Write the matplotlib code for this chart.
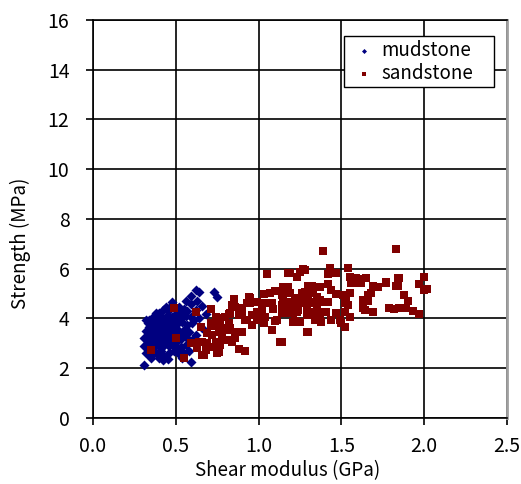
import matplotlib.pyplot as plt
import numpy as np

plt.rcParams['font.family'] = ['Noto Sans CJK JP', 'DejaVu Sans']

# mudstone: shear modulus (GPa), strength (MPa)
mud_g = [0.62, 0.64, 0.73, 0.75, 0.59, 0.63, 0.56, 0.48, 0.59, 0.50, 0.40, 0.38, 0.34, 0.32,
         0.31, 0.42, 0.59, 0.54, 0.51,
         0.44, 0.47, 0.52, 0.55, 0.45, 0.53, 0.57, 0.42,
         0.36, 0.39, 0.42, 0.45, 0.48, 0.50, 0.53, 0.56, 0.59, 0.61, 0.44,
         0.33, 0.35, 0.38, 0.40, 0.43, 0.46, 0.48, 0.51, 0.54, 0.57, 0.60, 0.41, 0.36,
         0.32, 0.34, 0.36, 0.39, 0.41, 0.44, 0.46, 0.49, 0.52, 0.55, 0.58, 0.38, 0.43, 0.47,
         0.31, 0.33, 0.35, 0.37, 0.40, 0.42, 0.45, 0.47, 0.50, 0.53, 0.56, 0.39, 0.44,
         0.31, 0.33, 0.35, 0.37, 0.39, 0.41, 0.43, 0.46, 0.48, 0.53, 0.56, 0.36,
         0.32, 0.34, 0.37, 0.39, 0.41, 0.43, 0.46, 0.49, 0.52, 0.40, 0.35, 0.45,
         0.62, 0.66, 0.68, 0.64, 0.66, 0.62, 0.60, 0.58, 0.55,
         0.37, 0.42, 0.46, 0.50, 0.50, 0.48, 0.38, 0.44, 0.40, 0.35, 0.45, 0.52,
         0.34, 0.37, 0.41, 0.43, 0.47, 0.49, 0.51, 0.54, 0.33, 0.39]
mud_s = [5.14, 5.07, 5.08, 4.87, 4.90, 4.72, 4.70, 4.66, 4.58, 4.34, 4.22, 4.23, 3.94, 3.94,
         2.11, 2.33, 2.26, 2.41, 2.87,
         4.45, 4.52, 4.48, 4.40, 4.30, 4.25, 4.30, 4.35,
         4.05, 4.12, 4.00, 4.15, 4.05, 4.18, 4.02, 4.10, 4.05, 3.95, 3.95,
         3.80, 3.72, 3.85, 3.75, 3.82, 3.70, 3.88, 3.78, 3.85, 3.72, 3.80, 3.90, 3.90,
         3.50, 3.42, 3.58, 3.48, 3.60, 3.45, 3.55, 3.62, 3.50, 3.55, 3.45, 3.38, 3.35, 3.40,
         3.20, 3.10, 3.28, 3.15, 3.25, 3.12, 3.22, 3.08, 3.30, 3.18, 3.25, 3.05, 3.32,
         2.90, 2.82, 2.98, 2.85, 2.95, 2.80, 2.92, 2.88, 2.97, 2.85, 2.95, 2.75,
         2.60, 2.52, 2.65, 2.55, 2.68, 2.50, 2.62, 2.70, 2.58, 2.42, 2.40, 2.38,
         4.35, 4.50, 4.20, 4.00, 3.60, 3.35, 3.15, 2.70, 2.60,
         3.65, 3.70, 3.95, 3.95, 3.45, 3.20, 3.00, 3.05, 3.40, 3.35, 4.05, 4.35,
         3.65, 3.30, 3.10, 3.60, 3.30, 3.50, 3.10, 3.35, 3.00, 3.70]

# sandstone
sand_g = [1.39, 1.83, 1.19, 1.23, 1.25, 1.27, 1.43, 1.42, 1.47, 1.54, 1.55, 1.56, 1.59, 1.65,
          1.62, 1.69, 1.72, 1.77, 1.84, 1.83, 1.88, 1.90, 1.15, 1.18, 1.30, 1.32, 1.37, 1.42,
          1.28, 1.33, 1.35, 1.44, 1.47, 1.51, 1.55, 1.53, 1.15, 1.19, 1.22, 1.25, 1.17, 1.14,
          1.19, 1.22, 1.24, 1.29, 1.32, 1.34, 1.37, 1.39, 1.42, 1.35, 1.38, 1.29, 1.32, 1.37,
          1.41, 1.38, 1.34, 1.44, 1.47, 1.49, 1.50, 1.52, 1.52, 1.54, 1.52, 1.55, 1.63, 1.66,
          1.66, 1.63, 1.64, 1.69, 1.59, 1.62, 1.77, 1.79, 1.82, 1.85, 1.89, 1.16, 1.21, 1.25,
          1.29, 1.14, 1.35, 1.30, 1.21, 1.23,
          1.85, 1.84, 2.00, 1.97, 2.00, 2.02, 1.93, 1.97, 1.60, 1.68, 1.28,
          1.05, 0.85, 0.94, 0.95, 1.03, 1.07, 1.10, 1.14, 1.16, 1.18, 1.15, 1.19, 1.22, 1.26,
          1.29, 1.31, 1.23, 1.27, 1.14, 1.20, 1.04, 1.02, 0.99, 1.08, 1.09, 1.04, 1.03, 1.08,
          1.10, 1.22, 1.30, 1.14, 0.96, 0.93, 0.90, 0.86, 0.83, 0.88, 0.80, 0.77, 0.75, 0.82,
          0.81, 0.76, 0.86, 0.90, 0.86, 0.77, 0.84, 0.76, 0.88, 0.92, 1.13, 0.96, 0.99,
          0.84, 0.95, 0.93, 0.88, 0.82, 0.74, 0.90, 0.92, 1.00, 0.99, 1.11, 1.18,
          0.49, 0.62, 0.71, 0.74, 0.71, 0.65, 0.50, 0.59, 0.64, 0.69, 0.74, 0.68, 0.75, 0.67,
          0.35, 0.55, 0.71, 0.76, 0.78, 0.72, 0.77, 0.80, 0.83, 0.78, 0.81, 0.69, 0.66, 0.63,
          0.73, 0.66]
sand_s = [6.73, 6.79, 5.84, 5.67, 5.86, 5.99, 6.04, 5.79, 5.84, 6.03, 5.68, 5.42, 5.63, 5.63,
          5.44, 5.32, 5.27, 5.43, 5.63, 5.32, 4.94, 4.70, 5.28, 5.27, 5.31, 5.31, 5.27, 5.39,
          5.08, 5.04, 4.88, 5.15, 4.98, 4.94, 5.04, 4.88, 4.94, 5.02, 4.82, 4.74, 4.68, 4.54,
          4.34, 4.54, 4.34, 4.47, 4.68, 4.62, 4.74, 4.68, 4.68, 4.34, 4.27, 4.14, 4.27, 4.14,
          4.27, 3.87, 3.94, 3.94, 4.23, 3.94, 3.81, 3.67, 4.62, 4.54, 4.27, 4.07, 4.74, 4.94,
          4.72, 4.42, 4.34, 4.27, 5.42, 5.48, 5.48, 4.42, 4.38, 4.42, 4.42, 4.23, 3.87, 3.87,
          3.47, 3.07, 4.47, 4.74, 4.21, 4.27,
          5.62, 5.31, 5.68, 5.37, 5.15, 5.18, 4.30, 4.17, 5.57, 5.01, 5.95,
          5.79, 4.77, 4.88, 4.64, 4.98, 5.01, 5.12, 4.94, 5.28, 5.15, 4.61, 4.68, 4.81, 5.01,
          5.08, 5.28, 4.61, 4.61, 4.23, 4.23, 4.64, 4.37, 4.27, 4.61, 4.37, 4.07, 3.80, 3.54,
          3.91, 3.91, 3.47, 3.07, 4.14, 3.94, 4.34, 4.45, 4.21, 4.14, 4.07, 3.87, 4.01, 3.80,
          3.54, 3.47, 3.47, 3.47, 3.20, 3.07, 3.07, 2.67, 2.76, 2.71, 3.07, 3.74, 3.94,
          4.54, 4.82, 4.64, 4.42, 4.18, 4.06, 4.14, 3.94, 4.23, 4.68, 3.94, 5.83,
          4.41, 4.25, 4.37, 4.05, 3.80, 3.67, 3.20, 3.03, 3.07, 3.03, 3.00, 2.73, 2.60, 2.53,
          2.73, 2.40, 3.71, 3.70, 3.54, 3.34, 2.93, 3.62, 3.62, 3.34, 3.14, 3.41, 3.07, 2.81,
          2.87, 2.53]

x_ticks = [0.0, 0.5, 1.0, 1.5, 2.0, 2.5]
y_ticks = [0, 2, 4, 6, 8, 10, 12, 14, 16]

fig = plt.figure(figsize=(5.21, 4.84), dpi=100)
ax = fig.add_axes([0.1785, 0.1364, 0.7945, 0.8223])

ax.scatter(mud_g, mud_s, marker='D', s=26, color='#000080', label='mudstone', zorder=3, linewidths=0)
ax.scatter(sand_g, sand_s, marker='s', s=28, color='#800000', label='sandstone', zorder=3, linewidths=0)

ax.set_xlim(0, 2.5)
ax.set_ylim(0, 16)
ax.set_xticks(x_ticks)
ax.set_xticklabels(['%.1f' % v for v in x_ticks])
ax.set_yticks(y_ticks)
ax.grid(True, color='black', linewidth=1.2)
ax.set_axisbelow(True)
ax.tick_params(direction='out', length=5, width=1.2, labelsize=14, color='black')
ax.tick_params(axis='y', pad=12)
ax.tick_params(axis='x', pad=8)
for s in ['left', 'bottom', 'top']:
    ax.spines[s].set_linewidth(1.2)
    ax.spines[s].set_color('black')
ax.spines['right'].set_color('#a0a0a0')
ax.spines['right'].set_linewidth(2)

ax.set_xlabel('Shear modulus (GPa)', fontsize=13.5, va='center')
ax.set_ylabel('Strength (MPa)', fontsize=13.5, va='center')
ax.xaxis.set_label_coords(0.47, -0.133)
ax.yaxis.set_label_coords(-0.175, 0.44)

leg = ax.legend(loc='upper left', bbox_to_anchor=(0.606, 0.834, 0.362, 0.126), mode='expand',
                borderaxespad=0, fontsize=13.5, frameon=True, fancybox=False, framealpha=1,
                edgecolor='black', borderpad=0.2, handletextpad=0.0, handlelength=1.8,
                markerscale=0.5, labelspacing=0.1)
leg.get_frame().set_linewidth(1.0)

fig.savefig('out.png', dpi=100)
